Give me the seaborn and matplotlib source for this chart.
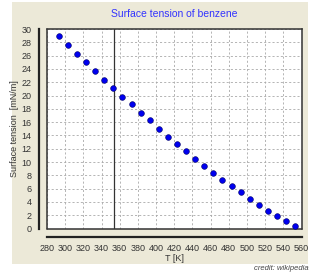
import numpy as np
import matplotlib
matplotlib.use('Agg')
import matplotlib.pyplot as plt
import seaborn as sns
from matplotlib.patches import Rectangle
from matplotlib.ticker import MultipleLocator

# Daten: Temperatur [K] und Oberflaechenspannung [mN/m]
temp_k = [293, 303, 313, 323, 333, 343, 353, 363, 373, 383, 393, 403, 413, 423,
          433, 443, 453, 463, 473, 483, 493, 503, 513, 523, 533, 543, 553]
tension = [28.95, 27.63, 26.28, 24.97, 23.70, 22.40, 21.15, 19.84, 18.69, 17.43,
           16.33, 15.02, 13.80, 12.71, 11.65, 10.50, 9.44, 8.38, 7.33, 6.33,
           5.43, 4.47, 3.51, 2.61, 1.81, 1.10, 0.39]
boiling_point = 353.2

sns.set_style('white')
plt.rcParams['font.family'] = ['Liberation Sans', 'DejaVu Sans']

fig = plt.figure(figsize=(3.21, 2.73), dpi=100)
fig.patch.set_facecolor('white')
# beiger Hintergrund
fig.patches.append(Rectangle((12 / 321, 1 - 264 / 273), 296 / 321, 262 / 273,
                             transform=fig.transFigure, facecolor='#ece9d8',
                             edgecolor='none', zorder=-5))

ax = fig.add_axes([47 / 321, 1 - 228.5 / 273, 254.5 / 321, 199.5 / 273])
ax.set_facecolor('white')

sns.scatterplot(x=temp_k, y=tension, ax=ax, color='#0000ee', edgecolor='#000066',
                linewidth=0.4, s=17, zorder=3)

ax.axvline(boiling_point, color='#333333', lw=0.9, zorder=2)

ax.set_xlim(280, 560)
ax.set_ylim(0, 30)
ax.xaxis.set_major_locator(MultipleLocator(20))
ax.xaxis.set_minor_locator(MultipleLocator(10))
ax.yaxis.set_major_locator(MultipleLocator(2))
ax.grid(True, which='major', color='#a8a8a8', ls=(0, (2.5, 2.5)), lw=0.6)

for side in ['left', 'bottom']:
    ax.spines[side].set_position(('outward', 6))
    ax.spines[side].set_linewidth(1.6)
    ax.spines[side].set_color('#222222')
for side in ['top', 'right']:
    ax.spines[side].set_linewidth(1.1)
    ax.spines[side].set_color('#333333')
# Rahmen unten und links
ax.plot([0, 0], [0, 1], transform=ax.transAxes, color='#333333', lw=1.1, clip_on=False)
ax.plot([0, 1], [0, 0], transform=ax.transAxes, color='#333333', lw=1.1, clip_on=False)

ax.tick_params(axis='both', which='both', direction='out', colors='#333333',
               labelcolor='#333333', labelsize=6.5, pad=2)
ax.tick_params(which='major', length=3, width=0.7)
ax.tick_params(which='minor', length=2, width=0.6)

ax.set_title('Surface tension of benzene', color='#3333ff', fontsize=7.5, pad=9)
ax.set_xlabel('T [K]', fontsize=6.5, color='#333333', labelpad=1)
ax.set_ylabel('Surface tension  [mN/m]', fontsize=6.5, color='#333333', labelpad=2)

fig.text(309 / 321, 1 - 270 / 273, 'credit: wikipedia', ha='right', va='baseline',
         fontsize=5.5, style='italic', color='#444444')

fig.savefig('out.png', dpi=100)
